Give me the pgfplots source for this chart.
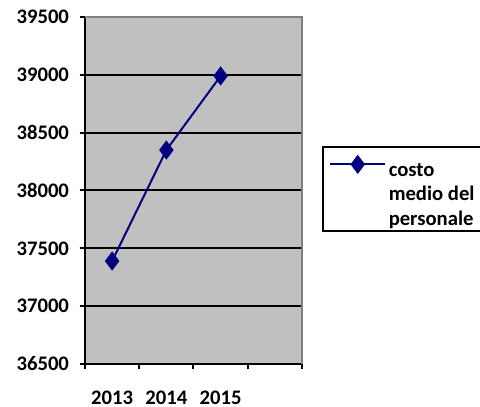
\documentclass[border=0pt]{standalone}
\usepackage{pgfplots}
\pgfplotsset{compat=1.18}
\usepackage{fontspec}
\setmainfont{Carlito}

\definecolor{plotgray}{HTML}{C0C0C0}
\definecolor{bordergray}{HTML}{808080}
\definecolor{seriesnavy}{HTML}{000080}

\begin{document}
\begin{tikzpicture}
\begin{axis}[
  at={(63.75pt,32.25pt)}, anchor=south west,
  scale only axis, width=162.75pt, height=260.25pt,
  xmin=0, xmax=4, ymin=36500, ymax=39500,
  axis background/.style={fill=plotgray},
  axis x line*=bottom, axis y line*=left,
  axis line style={line width=1.5pt, black},
  tick align=outside, major tick length=4pt,
  every tick/.style={line width=1.5pt, black},
  xtick={0,1,2,3,4}, xticklabels={},
  extra x ticks={0.5,1.5,2.5},
  extra x tick labels={2013,2014,2015},
  extra x tick style={major tick length=0pt, xticklabel style={yshift=-17pt}},
  ytick={36500,37000,...,39500},
  scaled y ticks=false,
  yticklabel={\pgfmathprintnumber[fixed,precision=0,1000 sep={}]{\tick}},
  extra y ticks={37000,37500,...,39000},
  extra y tick labels={},
  extra y tick style={ymajorgrids=true, major tick length=4pt},
  major grid style={line width=1.5pt, black},
  /pgf/number format/assume math mode=true,
  /pgf/number format/1000 sep={},
  tick label style={font=\fontsize{15.5}{18}\selectfont\bfseries},
  yticklabel style={xshift=-4.5pt},
  legend style={at={(1.092,0.628)}, anchor=north west, draw=black,
    line width=1.2pt, fill=white, inner xsep=5pt, inner ysep=1pt,
    font=\fontsize{15.5}{18.4}\selectfont\bfseries,
    cells={anchor=west}},
  % the sample sits level with the first line of the entry
  legend image code/.code={
    \path (0pt,0pt) (41pt,0pt);
    \draw[overlay, mark repeat=2, mark phase=2, #1, yshift=18.5pt]
      plot coordinates {(0pt,0pt) (20.5pt,0pt) (41pt,0pt)};},
  after end axis/.code={
    \draw[bordergray, line width=1.2pt]
      (rel axis cs:0,1) -- (rel axis cs:1,1) -- (rel axis cs:1,0);},
]
\addplot[seriesnavy, line width=1.5pt, mark=diamond*, mark size=6pt,
  mark options={solid, fill=seriesnavy}]
  coordinates {(0.5,37390) (1.5,38350) (2.5,38990)};
\addlegendentry{\begin{tabular}[b]{@{}l@{}}\rule{0pt}{19pt}costo\\medio del\\personale\hspace*{20pt}\end{tabular}}
\end{axis}
\pgfresetboundingbox
\useasboundingbox (0,0) rectangle (360pt,305.25pt);
\end{tikzpicture}
\end{document}
